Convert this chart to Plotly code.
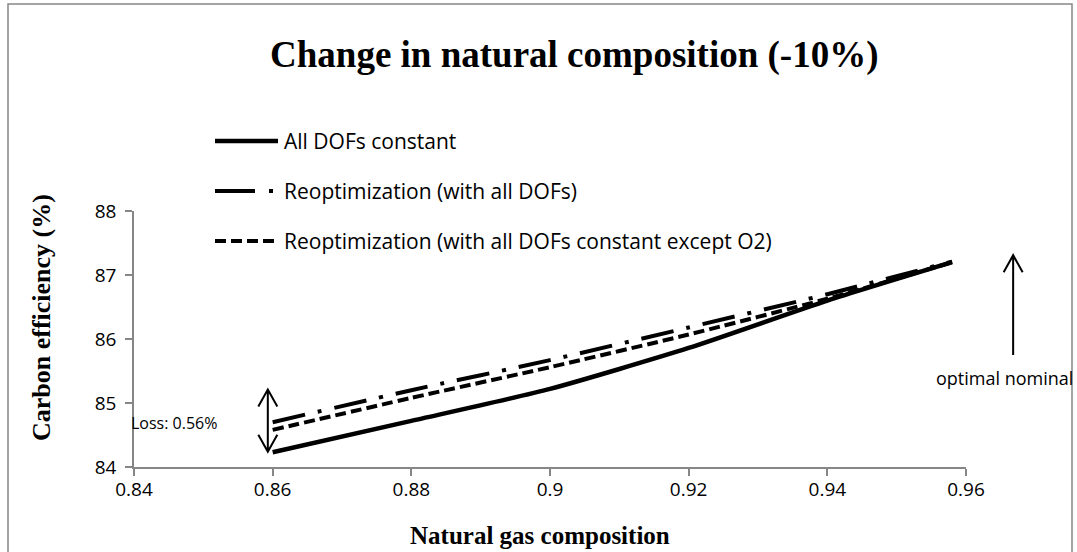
import plotly.graph_objects as go

# ---- data ----
x_comp = [0.86, 0.88, 0.90, 0.92, 0.94, 0.958]
eff_constant = [84.23, 84.72, 85.22, 85.86, 86.60, 87.20]
eff_reopt_all = [84.70, 85.20, 85.67, 86.18, 86.70, 87.21]
eff_reopt_o2 = [84.58, 85.08, 85.56, 86.07, 86.63, 87.20]

series_names = ["All DOFs constant",
                "Reoptimization (with all DOFs)",
                "Reoptimization (with all DOFs constant except O2)"]

x_ticks = [0.84, 0.86, 0.88, 0.90, 0.92, 0.94, 0.96]
x_ticktext = ["0.84", "0.86", "0.88", "0.9", "0.92", "0.94", "0.96"]
y_ticks = [84, 85, 86, 87, 88]
x_range = [0.84, 0.96]
y_range = [84, 88]

# annotation arrows (data units)
loss_x, loss_lo, loss_hi = 0.8593, 84.24, 85.21
opt_x, opt_lo, opt_hi = 0.9668, 85.75, 87.31

W, H = 1077, 552
L, R, T, B = 134, 111, 211, 85
PW, PH = W - L - R, H - T - B


def px(xp):
    return (xp - L) / PW


def py(yp):
    return (H - B - yp) / PH


styles = [dict(dash="solid", width=4.5),
          dict(dash="33px,13px,4px,13px", width=4),
          dict(dash="11px,5px", width=4)]
legend_dash = ["solid", "40px,14px,4px,100px", "11px,5px"]
series = [eff_constant, eff_reopt_all, eff_reopt_o2]

fig = go.Figure()
for name, vals, st in zip(series_names, series, styles):
    fig.add_trace(go.Scatter(x=x_comp, y=vals, mode="lines", name=name,
                             line=dict(color="black", width=st["width"], dash=st["dash"],
                                       shape="spline", smoothing=0.6),
                             showlegend=False))

shapes = []
annotations = []

# manual legend
leg_y = [141, 191, 241]
for i, (name, st) in enumerate(zip(series_names, styles)):
    shapes.append(dict(type="line", xref="paper", yref="paper",
                       x0=px(215), x1=px(278), y0=py(leg_y[i]), y1=py(leg_y[i]),
                       line=dict(color="black", width=st["width"], dash=legend_dash[i])))
    annotations.append(dict(text=name, xref="paper", yref="paper",
                            x=px(282), y=py(leg_y[i]), xanchor="left", yanchor="middle",
                            showarrow=False,
                            font=dict(family="Open Sans", size=21, color="black")))

# border of chart area
shapes.append(dict(type="rect", xref="paper", yref="paper",
                   x0=px(8), x1=px(1072), y0=py(570), y1=py(4),
                   line=dict(color="#868686", width=1.5)))


def to_paper(x, y):
    return ((x - x_range[0]) / (x_range[1] - x_range[0]),
            (y - y_range[0]) / (y_range[1] - y_range[0]))


def arrow_path(x, y_lo, y_hi, up=True, down=False):
    dxp = 9.5 / PW
    dyp = 17 / PH
    xp, ylo = to_paper(x, y_lo)
    _, yhi = to_paper(x, y_hi)
    p = f"M {xp},{ylo} L {xp},{yhi}"
    if up:
        p += f" M {xp-dxp},{yhi-dyp} L {xp},{yhi} L {xp+dxp},{yhi-dyp}"
    if down:
        p += f" M {xp-dxp},{ylo+dyp} L {xp},{ylo} L {xp+dxp},{ylo+dyp}"
    return p

shapes.append(dict(type="path", xref="paper", yref="paper",
                   path=arrow_path(loss_x, loss_lo, loss_hi, up=True, down=True),
                   line=dict(color="black", width=2)))
shapes.append(dict(type="path", xref="paper", yref="paper",
                   path=arrow_path(opt_x, opt_lo, opt_hi, up=True, down=False),
                   line=dict(color="black", width=2)))

annotations.append(dict(text="Loss: 0.56%", xref="paper", yref="paper",
                        x=px(129), y=py(423), xanchor="left", yanchor="middle",
                        showarrow=False, font=dict(family="Open Sans", size=16, color="black")))
annotations.append(dict(text="optimal nominal", xref="paper", yref="paper",
                        x=px(1075), y=py(378), xanchor="right", yanchor="middle",
                        showarrow=False, font=dict(family="Open Sans", size=18, color="black")))

# titles
annotations.append(dict(text="<b>Change in natural composition (-10%)</b>", xref="paper", yref="paper",
                        x=px(574), y=py(55), xanchor="center", yanchor="middle", showarrow=False,
                        font=dict(family="Liberation Serif", size=37, color="black")))
annotations.append(dict(text="<b>Natural gas composition</b>", xref="paper", yref="paper",
                        x=px(540), y=py(535), xanchor="center", yanchor="middle", showarrow=False,
                        font=dict(family="Liberation Serif", size=25, color="black")))
annotations.append(dict(text="<b>Carbon efficiency (%)</b>", xref="paper", yref="paper",
                        x=px(41), y=py(318), xanchor="center", yanchor="middle", showarrow=False,
                        textangle=-90,
                        font=dict(family="Liberation Serif", size=26, color="black")))

fig.update_layout(
    width=W, height=H,
    margin=dict(l=L, r=R, t=T, b=B),
    paper_bgcolor="white", plot_bgcolor="white",
    shapes=shapes, annotations=annotations,
    hovermode=False,
    xaxis=dict(range=x_range, tickvals=x_ticks, ticktext=x_ticktext,
               showline=True, linecolor="#868686", linewidth=1.5,
               ticks="outside", ticklen=7, tickwidth=1.5, tickcolor="#868686",
               showgrid=False, zeroline=False, ticklabelstandoff=-3,
               tickfont=dict(family="Open Sans", size=19, color="black")),
    yaxis=dict(range=y_range, tickvals=y_ticks,
               showline=True, linecolor="#868686", linewidth=1.5,
               ticks="outside", ticklen=7, tickwidth=1.5, tickcolor="#868686",
               showgrid=False, zeroline=False, ticklabelstandoff=5,
               tickfont=dict(family="Open Sans", size=19, color="black")),
)

fig.write_html("out.html", config={"displayModeBar": False},
               post_script="document.body.style.margin='0px';")
